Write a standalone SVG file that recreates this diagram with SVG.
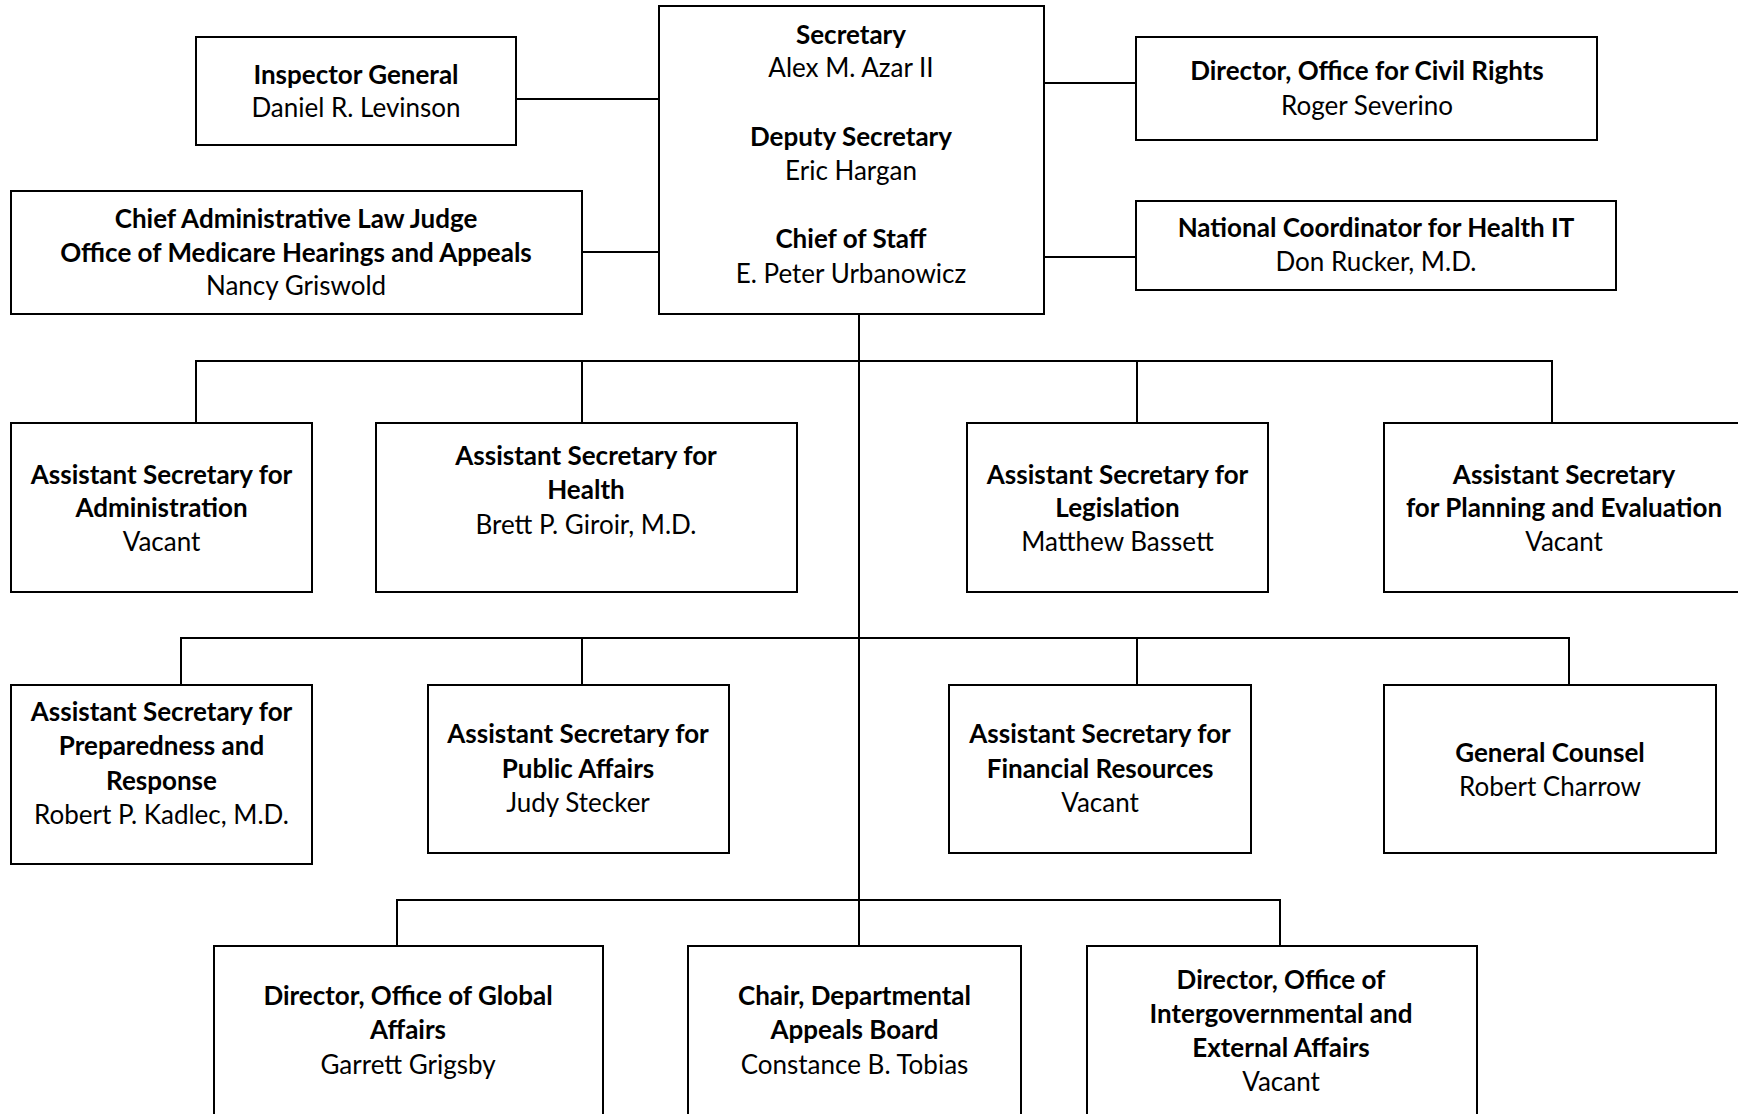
<svg xmlns="http://www.w3.org/2000/svg" width="1738" height="1114" viewBox="0 0 1738 1114">
<style>
.box{fill:#fff;stroke:#000;stroke-width:2}
.ln{fill:none;stroke:#000;stroke-width:2}
text{font-family:Lato,"Open Sans","Liberation Sans",sans-serif;font-size:26px;fill:#000;text-anchor:middle}
.b{font-weight:bold}
</style>
<rect width="1738" height="1114" fill="#fff"/>
<g id="connectors">
<path class="ln" d="M859 314V946"/>
<path class="ln" d="M516 99H659M582 252H659M1044 83H1136M1044 257H1136"/>
<path class="ln" d="M196 423V361H1552V423M582 361V423M1137 361V423"/>
<path class="ln" d="M181 685V638H1569V685M582 638V685M1137 638V685"/>
<path class="ln" d="M397 946V900H1280V946"/>
</g>
<g id="secretary">
<rect class="box" x="659" y="6" width="385" height="308"/>
<text x="851" y="43.5" class="b">Secretary</text>
<text x="851" y="77">Alex M. Azar II</text>
<text x="851" y="146" class="b">Deputy Secretary</text>
<text x="851" y="179.5">Eric Hargan</text>
<text x="851" y="248" class="b">Chief of Staff</text>
<text x="851" y="282.5">E. Peter Urbanowicz</text>
</g>
<g id="inspector-general">
<rect class="box" x="196" y="37" width="320" height="108"/>
<text x="356" y="83.5" class="b">Inspector General</text>
<text x="356" y="117">Daniel R. Levinson</text>
</g>
<g id="chief-alj">
<rect class="box" x="11" y="191" width="571" height="123"/>
<text x="296" y="228" class="b">Chief Administrative Law Judge</text>
<text x="296" y="261.5" class="b">Office of Medicare Hearings and Appeals</text>
<text x="296" y="295">Nancy Griswold</text>
</g>
<g id="civil-rights">
<rect class="box" x="1136" y="37" width="461" height="103"/>
<text x="1367" y="80" class="b">Director, Office for Civil Rights</text>
<text x="1367" y="114.5">Roger Severino</text>
</g>
<g id="health-it">
<rect class="box" x="1136" y="201" width="480" height="89"/>
<text x="1376" y="237" class="b">National Coordinator for Health IT</text>
<text x="1376" y="270.5">Don Rucker, M.D.</text>
</g>
<g id="as-administration">
<rect class="box" x="11" y="423" width="301" height="169"/>
<text x="161.5" y="483.5" class="b">Assistant Secretary for</text>
<text x="161.5" y="517" class="b">Administration</text>
<text x="161.5" y="550.5">Vacant</text>
</g>
<g id="as-health">
<rect class="box" x="376" y="423" width="421" height="169"/>
<text x="586" y="465" class="b">Assistant Secretary for</text>
<text x="586" y="499" class="b">Health</text>
<text x="586" y="533.5">Brett P. Giroir, M.D.</text>
</g>
<g id="as-legislation">
<rect class="box" x="967" y="423" width="301" height="169"/>
<text x="1117.5" y="483.5" class="b">Assistant Secretary for</text>
<text x="1117.5" y="517" class="b">Legislation</text>
<text x="1117.5" y="550.5">Matthew Bassett</text>
</g>
<g id="as-planning">
<rect class="box" x="1384" y="423" width="362" height="169"/>
<text x="1564" y="483.5" class="b">Assistant Secretary</text>
<text x="1564" y="517" class="b">for Planning and Evaluation</text>
<text x="1564" y="550.5">Vacant</text>
</g>
<g id="as-preparedness">
<rect class="box" x="11" y="685" width="301" height="179"/>
<text x="161.5" y="720.5" class="b">Assistant Secretary for</text>
<text x="161.5" y="755" class="b">Preparedness and</text>
<text x="161.5" y="789.5" class="b">Response</text>
<text x="161.5" y="823.5">Robert P. Kadlec, M.D.</text>
</g>
<g id="as-public-affairs">
<rect class="box" x="428" y="685" width="301" height="168"/>
<text x="578" y="743" class="b">Assistant Secretary for</text>
<text x="578" y="777.5" class="b">Public Affairs</text>
<text x="578" y="811.5">Judy Stecker</text>
</g>
<g id="as-financial">
<rect class="box" x="949" y="685" width="302" height="168"/>
<text x="1100" y="743" class="b">Assistant Secretary for</text>
<text x="1100" y="777.5" class="b">Financial Resources</text>
<text x="1100" y="811.5">Vacant</text>
</g>
<g id="general-counsel">
<rect class="box" x="1384" y="685" width="332" height="168"/>
<text x="1550" y="761.5" class="b">General Counsel</text>
<text x="1550" y="796">Robert Charrow</text>
</g>
<g id="global-affairs">
<rect class="box" x="214" y="946" width="389" height="180"/>
<text x="408" y="1005" class="b">Director, Office of Global</text>
<text x="408" y="1039" class="b">Affairs</text>
<text x="408" y="1073.5">Garrett Grigsby</text>
</g>
<g id="appeals-board">
<rect class="box" x="688" y="946" width="333" height="180"/>
<text x="854.5" y="1005" class="b">Chair, Departmental</text>
<text x="854.5" y="1039" class="b">Appeals Board</text>
<text x="854.5" y="1073.5">Constance B. Tobias</text>
</g>
<g id="intergovernmental">
<rect class="box" x="1087" y="946" width="390" height="180"/>
<text x="1281" y="988.5" class="b">Director, Office of</text>
<text x="1281" y="1023" class="b">Intergovernmental and</text>
<text x="1281" y="1057" class="b">External Affairs</text>
<text x="1281" y="1091">Vacant</text>
</g>
</svg>
